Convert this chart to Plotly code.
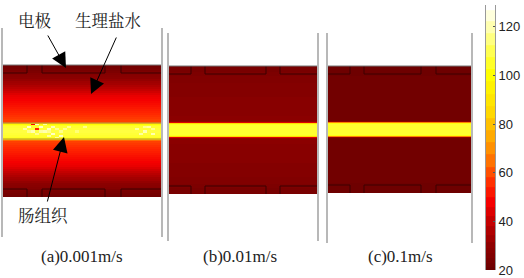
import plotly.graph_objects as go

W, H = 524, 278

# Colour scale of the temperature bar
cbar_min, cbar_max = 20, 129
cbar_ticks = [20, 40, 60, 80, 100, 120]
cbar_values = [20, 22, 24, 26, 28, 30, 33, 36, 40, 44, 48, 52, 56, 60, 65, 70, 75, 80, 85, 90, 95, 100, 105, 110, 115, 120, 125, 129]
color_stops_val = [20, 25, 30, 40, 48, 55, 62, 72, 85, 100, 110, 120, 129]
color_stops_col = ["#6a0000", "#7d0000", "#8f0000", "#c40000", "#f50000", "#ff2800", "#ff6000",
                   "#ff9c00", "#ffd800", "#ffff00", "#ffff50", "#ffffb0", "#ffffff"]

# Temperature rows: outer edge of each row (distance from channel centre) and its value
row_edges = [1.5, 3.5, 5.5, 6.5, 7.5, 8.5, 9.5, 12, 14, 16, 18, 20, 22, 24, 26, 28, 30, 32, 34, 36, 38, 40, 42,
             44, 46, 48, 50, 52, 54, 56, 58, 60, 62, 64, 66]
temp_a = [108, 107, 106, 104, 98, 84, 64, 58, 57, 56, 55, 54, 53, 52, 51, 50, 49, 48, 47, 46, 44, 42, 40,
          38, 36, 34, 33, 31, 29, 28, 27, 25, 24, 23, 22]
temp_b = [106, 106, 106, 104, 86, 44, 31, 29, 29, 28, 28, 28, 28, 28, 28, 28, 28, 28, 28, 27, 27, 27, 27,
          27, 27, 27, 26, 26, 26, 26, 25, 25, 24, 24, 24]
temp_c = [106, 106, 106, 102, 68, 30, 23, 22, 22, 22, 22, 22, 22, 22, 22, 22, 22, 22, 22, 22, 22, 22, 22,
          22, 22, 22, 22, 22, 22, 22, 21, 21, 21, 21, 21]

# Local hot / cold spots in panel (a): x, y, value
spots_x = [20, 24, 24, 28, 28, 32, 32, 32, 36, 36, 40, 40, 44, 44, 44, 48, 48, 52, 52, 56, 56, 60, 64, 72, 80,
           132, 136, 140, 140, 144, 148, 148]
spots_y = [3, 5, 0, 7, 0, 7, 3, -3, 5, -1, 7, 0, 3, -5, 0, 5, -3, -6, 2, -5, 1, 3, 5, 0, 5,
           3, -3, 0, 5, 5, -3, 2]
spots_v = [118, 122, 116, 50, 120, 122, 55, 116, 122, 118, 118, 120, 122, 118, 116, 120, 122, 118, 116, 122, 116,
           116, 116, 114, 116, 118, 118, 120, 116, 118, 120, 116]

# Electrode recesses (x ranges) per panel
elec_a = [(0, 24), (39, 102), (118, 158)]
elec_b = [(0, 22), (36, 97), (111, 148)]
elec_c = [(0, 22), (36, 93), (108, 143)]

panels = [
    dict(x0=3, x1=161, top=28, bot=237, cy=131, half=66, w=158, temp=temp_a, elec=elec_a, ed=8, sp=True, name="1", label="(a)0.001m/s", lx=82),
    dict(x0=169, x1=317, top=33, bot=241, cy=130, half=64, w=148, temp=temp_b, elec=elec_b, ed=8, sp=False, name="2", label="(b)0.01m/s", lx=240),
    dict(x0=328, x1=471, top=33, bot=243, cy=129.5, half=63.5, w=143, temp=temp_c, elec=elec_c, ed=8, sp=False, name="3", label="(c)0.1m/s", lx=400),
]

colorscale = [[(v - cbar_min) / (cbar_max - cbar_min), c] for v, c in zip(color_stops_val, color_stops_col)]

fig = go.Figure()
shapes, annos = [], []

for p in panels:
    scale = p["half"] / 66
    ys = [-e * scale for e in row_edges[::-1]] + [e * scale for e in row_edges]
    prof = p["temp"][:0:-1] + p["temp"]
    xs = list(range(0, p["w"] + 4, 4))
    z = [[v for _ in xs[:-1]] for v in prof]
    if p["sp"]:
        for sx, sy, sv in zip(spots_x, spots_y, spots_v):
            j = xs.index(sx)
            i = next(k for k in range(len(prof)) if ys[k] <= sy < ys[k + 1])
            z[i][j] = sv
    fig.add_trace(go.Heatmap(x=xs, y=ys, z=z, coloraxis="coloraxis", xaxis="x" + p["name"], yaxis="y" + p["name"],
                             hoverinfo="skip"))
    fig.layout["xaxis" + p["name"]] = dict(domain=[p["x0"] / W, p["x1"] / W], range=[0, p["w"]], visible=False,
                                           anchor="y" + p["name"], automargin=False)
    fig.layout["yaxis" + p["name"]] = dict(domain=[1 - p["bot"] / H, 1 - p["top"] / H],
                                           range=[p["cy"] - p["bot"], p["cy"] - p["top"]], automargin=False,
                                           showline=True, mirror=True, linecolor="#b8b8b8", linewidth=2,
                                           showticklabels=False, ticks="", showgrid=False, zeroline=False,
                                           anchor="x" + p["name"])
    xr, yr = "x" + p["name"], "y" + p["name"]
    for a, b in p["elec"]:
        for y0, y1 in [(p["half"], p["half"] - p["ed"]), (-p["half"], -p["half"] + p["ed"])]:
            shapes.append(dict(type="path", xref=xr, yref=yr,
                               path=f"M{a},{y0} L{a},{y1} L{b},{y1} L{b},{y0}" if a > 0 and b < p["w"] else
                               (f"M{a},{y1} L{b},{y1} L{b},{y0}" if a == 0 else f"M{a},{y0} L{a},{y1} L{b},{y1}"),
                               line=dict(color="#3c0000", width=1)))
    shapes.append(dict(type="line", xref=xr, yref=yr, x0=0, x1=p["w"], y0=p["half"], y1=p["half"],
                       line=dict(color="#777777", width=1)))
    annos.append(dict(text=p["label"], xref="paper", yref="paper", x=p["lx"] / W, y=1 - 256 / H, showarrow=False,
                      xanchor="center", yanchor="middle",
                      font=dict(family="Liberation Serif", size=17, color="#222")))

# Colour bar drawn as its own narrow axis pair
fig.add_trace(go.Heatmap(x=[0], y=cbar_values, z=[[v] for v in cbar_values], coloraxis="coloraxis",
                         xaxis="x4", yaxis="y4", hoverinfo="skip"))
fig.layout["xaxis4"] = dict(domain=[486 / W, 495 / W], visible=False, range=[-0.5, 0.5], anchor="y4", automargin=False)
fig.layout["yaxis4"] = dict(domain=[1 - 270 / H, 1 - 5 / H], range=[cbar_min, cbar_max], side="right", anchor="x4",
                            automargin=False,
                            tickvals=cbar_ticks, ticks="inside", ticklen=2, tickcolor="#555", showline=True, mirror=True,
                            linecolor="#999", linewidth=1, showgrid=False, zeroline=False,
                            tickfont=dict(family="Liberation Sans", size=13, color="#222"))

# Channel outline in panel (a)
for yb in (8, -8):
    shapes.append(dict(type="line", xref="x1", yref="y1", x0=0, x1=158, y0=yb, y1=yb,
                       line=dict(color="#a08050", width=0.8)))

cjk = dict(family="Noto Serif CJK SC, Noto Sans CJK SC", size=16.5, color="#222")
center = dict(xref="paper", yref="paper", showarrow=False, xanchor="center", yanchor="middle", font=cjk)
annos += [
    dict(text="电极", x=35 / W, y=1 - 20 / H, **center),
    dict(text="生理盐水", x=108 / W, y=1 - 20 / H, **center),
    dict(text="肠组织", x=43 / W, y=1 - 215 / H, **center),
]
for (x0, y0, x1, y1) in [(47, 34, 66, 68), (117, 36, 91, 94), (47, 203, 64, 137)]:
    annos.append(dict(x=x1 / W, y=1 - y1 / H, xref="paper", yref="paper", ax=x0 - x1, ay=y0 - y1, axref="pixel", ayref="pixel",
                      text="", showarrow=True, arrowhead=2, arrowsize=3, arrowwidth=1, arrowcolor="#000"))

fig.update_layout(
    width=W, height=H, margin=dict(l=0, r=0, t=0, b=0), paper_bgcolor="white", plot_bgcolor="white",
    shapes=shapes, annotations=annos, showlegend=False,
    coloraxis=dict(cmin=cbar_min, cmax=cbar_max, colorscale=colorscale, showscale=False),
)
fig.write_html("out.html", config=dict(displayModeBar=False),
               post_script="document.body.style.margin='0';document.body.style.overflow='hidden';")
